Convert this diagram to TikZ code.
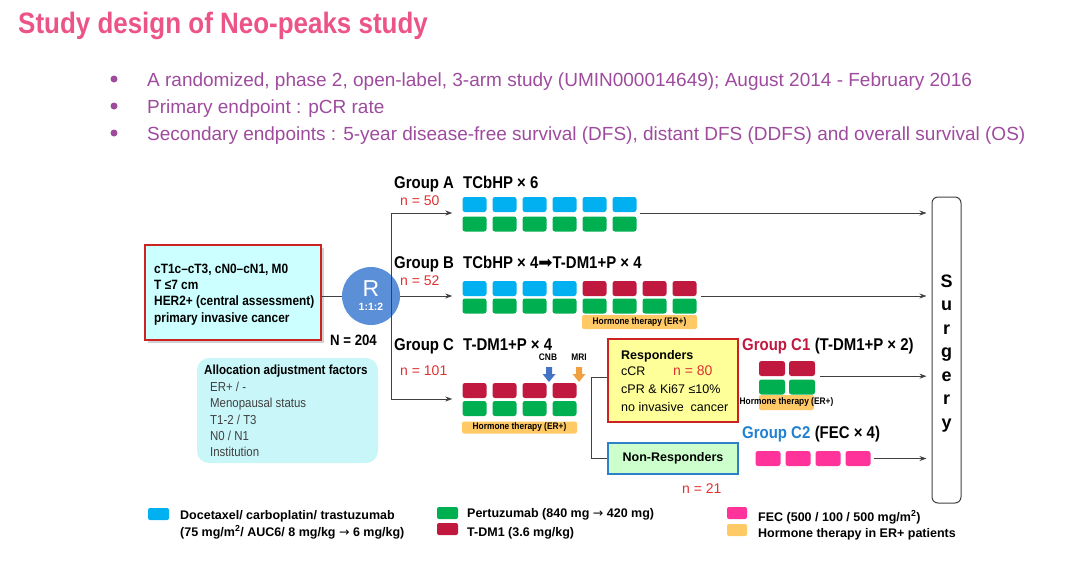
\documentclass[tikz,border=0pt]{standalone}
\usepackage{fontspec}
\setmainfont{Liberation Sans}
\newfontfamily\narrowfont[FakeStretch=0.88]{Liberation Sans}
\newfontfamily\symfont{DejaVu Sans}
\usetikzlibrary{arrows.meta,positioning}

\definecolor{titlepink}{HTML}{EC5488}
\definecolor{bulletpurple}{HTML}{9E4B9E}
\definecolor{tcblue}{HTML}{00B0F0}
\definecolor{pgreen}{HTML}{00B050}
\definecolor{tdmred}{HTML}{C0183F}
\definecolor{fecpink}{HTML}{FF3399}
\definecolor{hormone}{HTML}{FFC966}
\definecolor{rblue}{HTML}{5B8FD8}
\definecolor{nred}{HTML}{E03030}
\definecolor{c2blue}{HTML}{2180D0}
\definecolor{elig}{HTML}{CCFFFF}
\definecolor{alloc}{HTML}{C9F6F9}
\definecolor{respyellow}{HTML}{FFFF99}
\definecolor{nonresp}{HTML}{CCFFCC}
\definecolor{boxred}{HTML}{CC2222}
\definecolor{boxblue}{HTML}{2E80C8}
\definecolor{cnbblue}{HTML}{4472C4}
\definecolor{mriorange}{HTML}{F0A040}
\definecolor{linegray}{HTML}{404040}

\tikzset{
  drug/.style={rectangle, rounded corners=2.5pt, minimum width=24pt, minimum height=15pt, inner sep=0pt},
  hbar/.style={rectangle, rounded corners=2pt, fill=hormone, inner sep=0pt, font=\narrowfont\bfseries\fontsize{9.5}{9.5}\selectfont},
  flow/.style={draw=linegray, line width=0.8pt, -{Stealth[length=7pt,width=5pt]}},
  link/.style={draw=linegray, line width=0.8pt},
  glabel/.style={anchor=base west, inner sep=0pt, font=\narrowfont\bfseries\fontsize{17}{17}\selectfont},
  ncount/.style={anchor=base west, inner sep=0pt, text=nred, font=\fontsize{14}{14}\selectfont},
  elabel/.style={anchor=base west, inner sep=0pt, font=\narrowfont\bfseries\fontsize{13.5}{13.5}\selectfont},
  alabel/.style={anchor=base west, inner sep=0pt, text=black!75, font=\narrowfont\fontsize{13}{13}\selectfont},
  rlabel/.style={anchor=base west, inner sep=0pt, font=\fontsize{12.5}{12.5}\selectfont},
  legtext/.style={anchor=base west, inner sep=0pt, font=\bfseries\fontsize{12.5}{12.5}\selectfont},
  swatch/.style={rectangle, rounded corners=2pt, minimum width=21pt, minimum height=12pt, inner sep=0pt},
}

\begin{document}
\begin{tikzpicture}[x=1pt,y=-1pt]
\useasboundingbox (0,0) rectangle (1080,568);

% title and bullets
\node[anchor=base west, inner sep=0pt, text=titlepink, font=\narrowfont\bfseries\fontsize{29.5}{29.5}\selectfont] (title) at (18,33) {Study design of Neo-peaks study};
\foreach \txt [count=\i] in {{A randomized, phase 2, open-label, 3-arm study (UMIN000014649); August 2014 - February 2016},{Primary endpoint : pCR rate},{Secondary endpoints : 5-year disease-free survival (DFS), distant DFS (DDFS) and overall survival (OS)}} {
  \node[circle, fill=bulletpurple, minimum size=7pt, inner sep=0pt] (dot\i) at (114,{52+27*\i}) {};
  \node[anchor=base west, inner sep=0pt, text=bulletpurple, font=\fontsize{19}{19}\selectfont] (bullet\i) at (147,{59+27*\i}) {\txt};
}

% eligibility
\fill[black!18] (147.5,247.5) rectangle (323.5,342.5);
\node[draw=boxred, line width=1.3pt, fill=elig, minimum width=176pt, minimum height=95pt, inner sep=0pt] (elig) at (233,292.5) {};
\foreach \txt [count=\i] in {{cT1c–cT3, cN0–cN1, M0},{T ≤7 cm},{HER2+ (central assessment)},{primary invasive cancer}}
  \node[elabel] (elig\i) at (154,{256.6+16.4*\i}) {\txt};

% randomisation
\node[circle, fill=rblue, minimum size=58pt, inner sep=0pt, text=white, align=center] (rand) at (371,296)
  {{\fontsize{23}{23}\selectfont R}\\[2pt]{\bfseries\fontsize{10.5}{10.5}\selectfont 1:1:2}};
\node[anchor=base west, inner sep=0pt, font=\narrowfont\bfseries\fontsize{15}{15}\selectfont] (ntotal) at (330,345) {N = 204};

% allocation factors
\node[fill=alloc, rounded corners=12pt, minimum width=181pt, minimum height=105pt, inner sep=0pt] (allocbox) at (287.5,410.5) {};
\node[anchor=base west, inner sep=0pt, font=\narrowfont\bfseries\fontsize{13.2}{13.2}\selectfont] (alloctitle) at (204,374) {Allocation adjustment factors};
\foreach \txt [count=\i] in {ER+ / -, Menopausal status, T1-2 / T3, N0 / N1, Institution}
  \node[alabel] (alloc\i) at (210,{375.5+16.2*\i}) {\txt};

% group labels
\node[glabel] (ga) at (394,188) {Group A};
\node[glabel] (gatreat) at (463,188) {TCbHP × 6};
\node[ncount] (na) at (400,205) {n = 50};
\node[glabel] (gb) at (394,268) {Group B};
\node[glabel] (gbtreat) at (463,268) {TCbHP × 4{\symfont\mdseries ➡}T-DM1+P × 4};
\node[ncount] (nb) at (400,285) {n = 52};
\node[glabel] (gc) at (394,350) {Group C};
\node[glabel] (gctreat) at (463,350) {T-DM1+P × 4};
\node[ncount] (nc) at (400,375) {n = 101};

% group A
\foreach \i in {1,...,6} {
  \node[drug, fill=tcblue] (atc\i) at ({474.5+30*(\i-1)},204.5) {};
  \node[drug, fill=pgreen] (ap\i) at ({474.5+30*(\i-1)},224) {};
}
% group B
\foreach \i in {1,...,4}
  \node[drug, fill=tcblue] (b\i) at ({474.5+30*(\i-1)},288.5) {};
\foreach \i in {5,...,8}
  \node[drug, fill=tdmred] (b\i) at ({474.5+30*(\i-1)},288.5) {};
\foreach \i in {1,...,8}
  \node[drug, fill=pgreen] (bp\i) at ({474.5+30*(\i-1)},306) {};
\node[hbar, minimum width=115pt, minimum height=14pt] (bhorm) at (639.5,322) {Hormone therapy (ER+)};

% group C
\foreach \i in {1,...,4} {
  \node[drug, fill=tdmred] (ct\i) at ({474.5+30*(\i-1)},390.5) {};
  \node[drug, fill=pgreen] (cp\i) at ({474.5+30*(\i-1)},408.5) {};
}
\node[hbar, minimum width=115pt, minimum height=12pt] (chorm) at (519.5,427.5) {Hormone therapy (ER+)};
\node[font=\narrowfont\bfseries\fontsize{9.5}{9.5}\selectfont] (cnb) at (548,357) {CNB};
\node[font=\narrowfont\bfseries\fontsize{9.5}{9.5}\selectfont] (mri) at (579,357) {MRI};
\foreach \x/\col in {549/cnbblue, 579/mriorange}
  \fill[\col] (\x-3,367) -- (\x+3,367) -- (\x+3,374) -- (\x+6.5,374) -- (\x,382) -- (\x-6.5,374) -- (\x-3,374) -- cycle;

% responders
\node[draw=boxred, line width=1.3pt, fill=respyellow, minimum width=130pt, minimum height=83pt, inner sep=0pt] (resp) at (673,380.5) {};
\node[rlabel, font=\bfseries\fontsize{12.5}{12.5}\selectfont] (resptitle) at (621,359) {Responders};
\node[rlabel] (ccr) at (621,375) {cCR};
\node[rlabel, text=nred, font=\fontsize{14}{14}\selectfont] (nresp) at (673,375) {n = 80};
\node[rlabel] (cpr) at (621,393) {cPR \& Ki67 ≤10\%};
\node[rlabel] (noinv) at (621,411) {no invasive\ \ cancer};
\node[draw=boxblue, line width=1.3pt, fill=nonresp, minimum width=130pt, minimum height=31pt, inner sep=0pt, font=\bfseries\fontsize{12.5}{12.5}\selectfont] (nonresp) at (673,458.5) {Non-Responders};
\node[ncount] (nnon) at (682,493) {n = 21};

% group C1 and C2
\node[glabel, text=tdmred] (gc1) at (742,350) {Group C1};
\node[glabel, base right=4pt of gc1] (gc1treat) {(T-DM1+P × 2)};
\foreach \i in {1,2} {
  \node[drug, fill=tdmred, minimum width=26pt] (cet\i) at ({772+30*(\i-1)},368.5) {};
  \node[drug, fill=pgreen, minimum width=26pt] (cep\i) at ({772+30*(\i-1)},387) {};
}
\node[hbar, minimum width=55pt, minimum height=15pt] (c1horm) at (786.5,402.5) {};
\node[font=\narrowfont\bfseries\fontsize{9.5}{9.5}\selectfont, inner sep=0pt] (c1hormtext) at (c1horm) {Hormone therapy (ER+)};
\node[glabel, text=c2blue] (gc2) at (742,438) {Group C2};
\node[glabel, base right=4pt of gc2] (gc2treat) {(FEC × 4)};
\foreach \i in {1,...,4}
  \node[drug, fill=fecpink, minimum width=25pt] (fec\i) at ({768+30*(\i-1)},458.5) {};

% surgery
\node[draw=linegray, line width=1pt, rounded corners=6pt, minimum width=29pt, minimum height=306pt, inner sep=0pt] (surgery) at (946.5,350) {};
\foreach \ch [count=\i] in {S,u,r,g,e,r,y}
  \node[anchor=base, inner sep=0pt, font=\bfseries\fontsize{18}{18}\selectfont] (surg\i) at (946.5,{263.5+23.5*\i}) {\ch};

% connectors
\coordinate (trunktop) at (391,213);
\coordinate (trunkbot) at (391,399);
\coordinate (split) at (591,377);
\draw[link] (elig.east |- rand) -- (rand.west);
\draw[link] (trunktop) -- (trunkbot);
\draw[flow] (trunktop) -- ([xshift=-10pt]atc1.west |- trunktop);
\draw[flow] (rand.east) -- ([xshift=-10pt]b1.west |- rand.east);
\draw[flow] (trunkbot) -- ([xshift=-10pt]ct1.west |- trunkbot);
\draw[flow] ([xshift=3pt]atc6.east |- trunktop) -- ([xshift=-5pt]surgery.west |- trunktop);
\draw[flow] ([xshift=4pt]b8.east |- rand.east) -- ([xshift=-5pt]surgery.west |- rand.east);
\draw[flow] ([xshift=5pt]cet2.south east) -- ([xshift=-5pt]surgery.west |- cet2.south east);
\draw[flow] ([xshift=3pt]fec4.east) -- ([xshift=-5pt]surgery.west |- fec4.east);
\draw[link] (resp.west |- split) -- (split) |- (nonresp.west);

% legend
\node[swatch, fill=tcblue] (legtc) at (158.5,514) {};
\node[legtext] (legtctext) at (180,519) {Docetaxel/ carboplatin/ trastuzumab};
\node[legtext] (legtcdose) at (180,536) {(75 mg/m\textsuperscript{2}/ AUC6/ 8 mg/kg {\symfont\mdseries →} 6 mg/kg)};
\node[swatch, fill=pgreen] (legp) at (447.5,513) {};
\node[legtext] (legptext) at (467,517) {Pertuzumab (840 mg {\symfont\mdseries →} 420 mg)};
\node[swatch, fill=tdmred] (legt) at (447.5,529) {};
\node[legtext] (legttext) at (467,536) {T-DM1 (3.6 mg/kg)};
\node[swatch, fill=fecpink, minimum width=20pt] (legf) at (737,513) {};
\node[legtext] (legftext) at (758,521) {FEC (500 / 100 / 500 mg/m\textsuperscript{2})};
\node[swatch, fill=hormone, minimum width=20pt] (legh) at (737,530) {};
\node[legtext] (leghtext) at (758,537) {Hormone therapy in ER+ patients};
\end{tikzpicture}
\end{document}
